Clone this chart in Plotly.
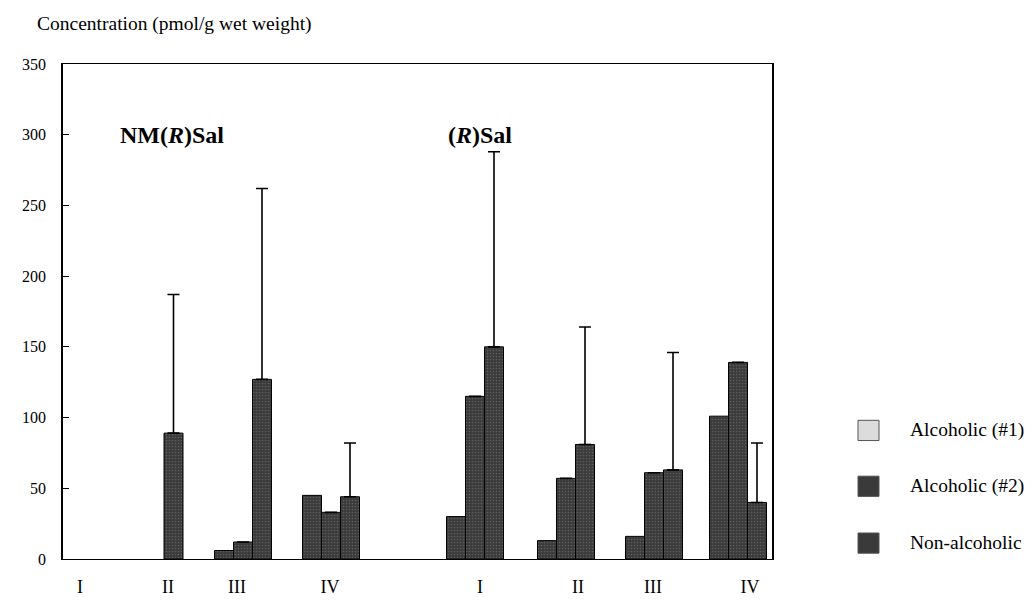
import plotly.graph_objects as go

# ---- data ----
group_labels = ["I", "II", "III", "IV", "I", "II", "III", "IV"]
series_names = ["Alcoholic (#1)", "Alcoholic (#2)", "Non-alcoholic"]
alc1 = [None, None, 6, 45, 30, 13, 16, 101]
alc2 = [None, 89, 12, 33, 115, 57, 61, 139]
nonalc = [None, None, 127, 44, 150, 81, 63, 40]
alc2_err = [None, 98, None, None, None, None, None, None]
nonalc_err = [None, None, 135, 38, 138, 83, 83, 42]
y_ticks = [0, 50, 100, 150, 200, 250, 300, 350]

# ---- layout helpers (x axis expressed in pixel-like units) ----
group_centers = [83, 173.5, 243, 331, 475, 566, 654, 738]
label_pos = [80, 168, 237, 330, 480, 578, 653, 750]
bar_w = 19
X0, X1 = 63, 772
W, H = 1036, 609
TOP, BOT = 64, 578

FONT = "Liberation Serif"
bar_fill = "#3a3a3a"

fig = go.Figure()
series = [alc1, alc2, nonalc]
errs = [None, alc2_err, nonalc_err]
for k, (name, vals, err) in enumerate(zip(series_names, series, errs)):
    xs = [c + (k - 1) * bar_w for c in group_centers]
    kw = {}
    if err is not None:
        kw["error_y"] = dict(type="data", symmetric=False, array=err,
                             arrayminus=[0 if e is not None else None for e in err],
                             color="black", thickness=1.6, width=6)
    fig.add_trace(go.Bar(
        x=xs, y=vals, width=bar_w, name=name, showlegend=False,
        marker=dict(color=bar_fill, line=dict(color="black", width=1),
                    pattern=dict(shape=".", fgcolor="#808080", bgcolor=bar_fill,
                                 size=3, solidity=0.25)),
        **kw))

fig.update_layout(
    width=W, height=H, barmode="overlay",
    margin=dict(l=X0, r=W - X1, t=TOP, b=H - BOT),
    plot_bgcolor="white", paper_bgcolor="white",
    font=dict(family=FONT, size=16, color="black"),
)
fig.update_xaxes(range=[X0, X1], tickvals=label_pos, ticktext=group_labels,
                 ticks="", showgrid=False, zeroline=False,
                 showline=True, mirror=True, linecolor="black", linewidth=1.2,
                 ticklabelstandoff=11, tickfont=dict(size=18, family=FONT))
fig.update_yaxes(range=[0, 350], tickvals=y_ticks, ticks="inside", ticklen=6,
                 tickcolor="black", showgrid=False, zeroline=False,
                 showline=True, mirror=True, linecolor="black", linewidth=1.5,
                 ticklabelstandoff=12, tickfont=dict(size=16, family=FONT))

def px_x(p):
    return (p - X0) / (X1 - X0)

def px_y(p):
    return (BOT - p) / (BOT - TOP)

ann = [
    dict(text="Concentration (pmol/g wet weight)", x=px_x(35), y=px_y(22),
         xanchor="left", yanchor="middle", font=dict(size=19.5, family=FONT)),
    dict(text="<b>NM(<i>R</i>)Sal</b>", x=px_x(118), y=px_y(138),
         xanchor="left", yanchor="middle", font=dict(size=24, family=FONT)),
    dict(text="<b>(<i>R</i>)Sal</b>", x=px_x(446), y=px_y(138),
         xanchor="left", yanchor="middle", font=dict(size=24, family=FONT)),
]
legend_y = [444, 502, 561]
legend_fill = ["#dcdcdc", bar_fill, bar_fill]
shapes = []
for name, ly, fc in zip(series_names, legend_y, legend_fill):
    shapes.append(dict(type="rect", xref="paper", yref="paper",
                       x0=px_x(858), x1=px_x(879), y0=px_y(ly + 11), y1=px_y(ly - 10),
                       fillcolor=fc, line=dict(color="#555", width=1)))
    ann.append(dict(text=name, x=px_x(908), y=px_y(ly), xanchor="left",
                    yanchor="middle", font=dict(size=19.5, family=FONT)))
for a in ann:
    a.update(xref="paper", yref="paper", showarrow=False)
fig.update_layout(annotations=ann, shapes=shapes)

fig.write_html("out.html")
